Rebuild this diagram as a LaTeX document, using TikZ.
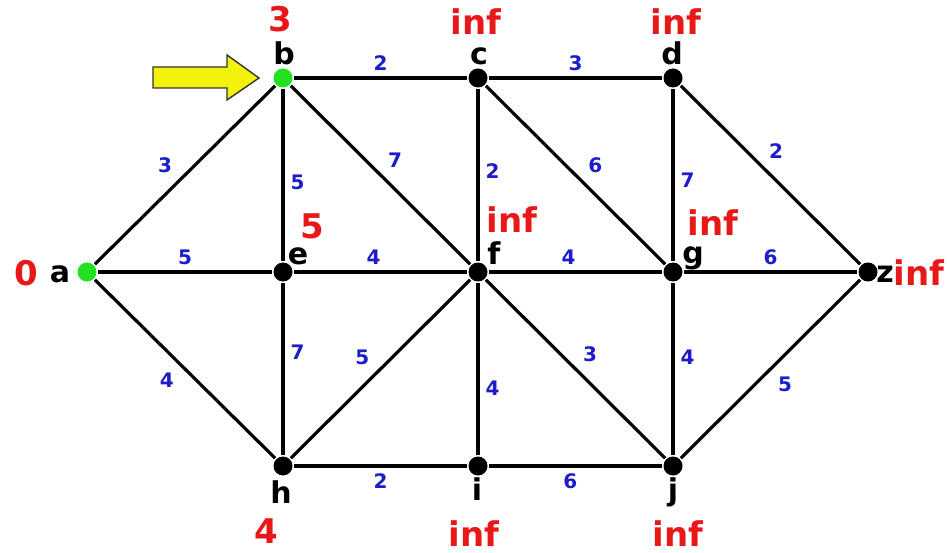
\documentclass[tikz,border=0pt]{standalone}
\usepackage{fontspec}
\setmainfont{DejaVu Sans}
\usetikzlibrary{backgrounds}
\definecolor{cgreen}{HTML}{22E022}
\definecolor{cred}{HTML}{E81818}
\definecolor{cblue}{HTML}{1C1CC8}
\definecolor{cyellow}{HTML}{F2F20C}
\tikzset{
  every picture/.style={font=\bfseries, line width=3.2pt},
  vtx/.style={circle, fill=#1, minimum size=19pt, inner sep=0pt},
  vtx/.default=black,
  edge/.style={draw=black, line width=3.2pt},
  wt/.style={text=cblue, font=\fontsize{20}{20}\selectfont\bfseries, inner sep=6pt},
  vname/.style={font=\fontsize{30}{30}\selectfont\bfseries, anchor=base, inner sep=0pt},
  dist/.style={text=cred, font=\fontsize{34}{34}\selectfont\bfseries, anchor=base, inner sep=0pt},
}

\begin{document}
\begin{tikzpicture}[x=1pt, y=-1pt]
  \useasboundingbox (0,0) rectangle (947,553);
  % vertices
  \foreach \n/\x/\y/\c in {a/87/272/cgreen, b/283/78/cgreen, c/478/78/black, d/673/78/black,
      e/283/272/black, f/478/272/black, g/673/272/black, z/868/272/black,
      h/283/466/black, i/478/466/black, j/673/466/black}
    \node[vtx=\c] (\n) at (\x,\y) {};
  % edges with weights
  \begin{scope}[on background layer]
    \foreach \u/\v/\w/\where/\p in {a/b/3/above left/0.47, a/e/5/above/0.5, a/h/4/below left/0.48,
        b/c/2/above/0.5, c/d/3/above/0.5, b/e/5/right/0.54, b/f/7/above right/0.5,
        c/f/2/right/0.48, c/g/6/above right/0.53, d/g/7/right/0.53, d/z/2/above right/0.45,
        e/f/4/above/0.46, f/g/4/above/0.46, g/z/6/above/0.5, e/h/7/right/0.4,
        h/f/5/above left/0.48, f/i/4/right/0.61, f/j/3/above right/0.5, g/j/4/right/0.43,
        j/z/5/below right/0.5, h/i/2/below/0.5, i/j/6/below/0.47}
      \draw[edge] (\u) -- node[wt, \where, pos=\p] {\w} (\v);
  \end{scope}
  % letters
  \foreach \n/\dx/\dy in {a/-27/10, b/1/-13, c/1/-13, d/-1/-13, e/15/-7, f/16/-7,
      g/20/-9, z/17/10, h/-2/37, i/-1/34, j/0/34}
    \node[vname] (l\n) at ([shift={(\dx,\dy)}]\n) {\n};
  % current distances
  \foreach \n/\dx/\dy/\d in {a/-61/13/0, b/-3/-46/3, c/-2/-43/inf, d/3/-43/inf,
      e/29/-33/5, f/34/-39/inf, g/40/-36/inf, z/51/13/inf,
      h/-17/77/4, i/-4/80/inf, j/5/80/inf}
    \node[dist] (d\n) at ([shift={(\dx,\dy)}]\n) {\d};
  % pointer to the vertex being processed
  \draw[draw=black!80, fill=cyellow, line width=1.4pt]
    (153,67) -- (227,67) -- (227,55) -- (259,78) -- (227,100) -- (227,88) -- (153,88) -- cycle;
\end{tikzpicture}
\end{document}
